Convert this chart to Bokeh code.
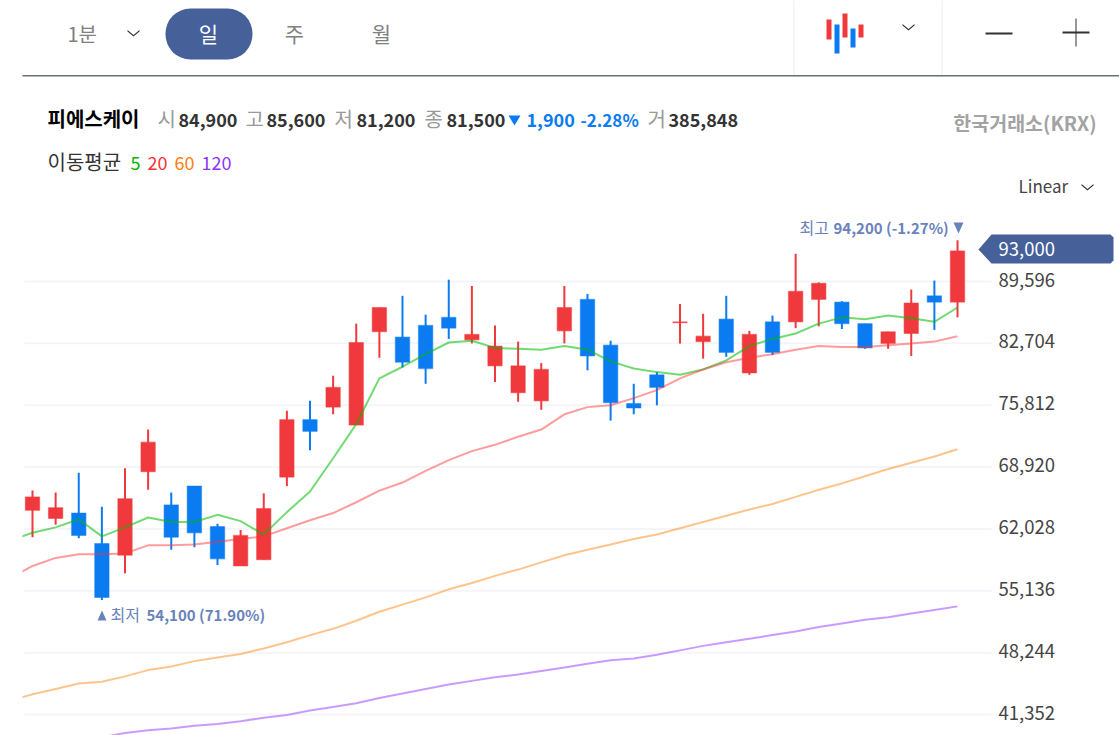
# plot.py
#
# Daily candle chart with moving averages, inside the trading page chrome

# ========
# SETTINGS
# ========

# Libraries
from bokeh.core.properties import value
from bokeh.embed import file_html
from bokeh.models import BoxAnnotation, ColumnDataSource, Label, PolyAnnotation, Range1d
from bokeh.plotting import figure
from bokeh.resources import INLINE

# ====
# DATA
# ====

# Candles, oldest first
opens = [64100, 63200, 63800, 60400, 59100, 68400, 64700, 66800, 62300, 57900, 58600,
	67800, 74200, 75600, 73600, 84000, 83400, 84700, 85600, 83100, 80200, 77200, 76300,
	84100, 87600, 82500, 76000, 79200, 85000, 82900, 85400, 79400, 85100, 85100, 87600,
	87300, 84900, 82700, 83800, 88000, 87300]
highs = [66300, 66100, 68300, 64500, 68800, 73100, 66100, 66800, 62600, 61900, 66000,
	75200, 76300, 79100, 84900, 86700, 88000, 85900, 89800, 89100, 84700, 82900, 80500,
	89100, 88200, 83000, 78200, 79500, 87100, 86000, 88000, 84100, 85800, 92700, 89500,
	87400, 84900, 84000, 88700, 89700, 94200]
lows = [61100, 62500, 61000, 54100, 57100, 66400, 59700, 60000, 58000, 57900, 58600,
	66800, 70800, 74800, 73600, 81100, 80000, 78200, 83200, 82700, 78400, 76200, 75300,
	82700, 79700, 74100, 74800, 75800, 82700, 81000, 81200, 79200, 81400, 84400, 84600,
	84300, 82100, 82100, 81300, 84200, 85600]
closes = [65600, 64400, 61300, 54400, 65400, 71700, 61100, 61600, 58700, 61300, 64300,
	74200, 72900, 77800, 82800, 86700, 80600, 79900, 84400, 83700, 82400, 80200, 79800,
	86700, 81300, 76100, 75500, 77800, 85100, 83500, 81700, 83700, 81700, 88500, 89400,
	84900, 82200, 84000, 87200, 87300, 93000]

# Moving averages; these start one session before the first visible candle
ma5 = [60700, 61600, 62200, 63100, 61200, 62200, 63300, 62800, 62800, 63600, 62900, 61400,
	63900, 66200, 69900, 73700, 78800, 80100, 81500, 82800, 83000, 82200, 82100, 82000,
	82400, 82000, 80700, 79900, 79500, 79200, 79800, 80800, 82400, 83200, 83800, 84900,
	85600, 85400, 85800, 85500, 85100, 86700]
ma20 = [56500, 57900, 58800, 59200, 59200, 59300, 60200, 60200, 60300, 60600, 60900, 61200,
	62100, 63000, 63800, 65000, 66300, 67200, 68500, 69700, 70700, 71400, 72300, 73100,
	74800, 75600, 75800, 76600, 77500, 78800, 79800, 80600, 81100, 81500, 82000, 82400,
	82300, 82300, 82500, 82700, 82900, 83500]
ma60 = [42900, 43600, 44200, 44800, 45000, 45600, 46300, 46700, 47300, 47700, 48100, 48700,
	49400, 50200, 50900, 51800, 52800, 53600, 54400, 55300, 56000, 56800, 57500, 58300,
	59100, 59700, 60300, 60900, 61400, 62100, 62800, 63500, 64200, 64800, 65600, 66400,
	67100, 67900, 68700, 69400, 70100, 70900]
# The long average only enters the visible area from the fourth candle on
ma120 = [38800, 39300, 39600, 39800, 40100, 40300, 40600, 41000, 41300, 41800, 42200, 42600,
	43200, 43700, 44200, 44700, 45100, 45500, 45800, 46200, 46600, 47000, 47400, 47600,
	48000, 48500, 49000, 49400, 49800, 50200, 50600, 51100, 51500, 51900, 52200, 52600,
	53000, 53400]

# Price axis
price_ticks = [41352, 48244, 55136, 62028, 68920, 75812, 82704, 89596]

# Header texts
stock_name = '피에스케이'
quote_items = [('시', '84,900', 157, 178), ('고', '85,600', 245, 266), ('저', '81,200', 334, 356), ('종', '81,500', 424, 446)]
quote_change = '1,900'
quote_rate = '-2.28%'
quote_volume = '385,848'
ma_periods = ['5', '20', '60', '120']

# ======
# STYLES
# ======

FONT = 'Noto Sans CJK KR'
RED = '#f0393c'
BLUE = '#0b7bf1'
NAVY = '#46609a'
MARK = '#6a82bc'
DARK = '#333333'
GREY = '#808080'

# Page pixels of the candle area
PX_LEFT = 22
PX_RIGHT = 991
WIDTH = 1119
HEIGHT = 735

# ======
# FIGURE
# ======

# Position scales: one session is 23.125px, 6892 won is 61.86px
step = 23.125
price_per_px = 6892 / 61.86

def to_x(px):
	'''Session position of a page pixel column'''
	return (px - 32) / step

# The frame fills the page so that header and tag can sit anywhere
p = figure(
	width=WIDTH,
	height=HEIGHT,
	x_range=Range1d(to_x(0), to_x(WIDTH)),
	y_range=Range1d(89596 - (HEIGHT - 281) * price_per_px, 89596 + 281 * price_per_px),
	x_axis_location=None,
	y_axis_location=None,
	output_backend='svg',
	toolbar_location=None,
	min_border=0,
	)

# Tidy
p.outline_line_color = None
p.grid.visible = False

# =====
# MARKS
# =====

# Gridlines and price labels, 2px above their lines as on the page
p.segment([to_x(24)] * len(price_ticks), price_ticks, [to_x(PX_RIGHT)] * len(price_ticks), price_ticks,
	line_color='#f4f5f9', line_width=2)
p.text([to_x(998)] * len(price_ticks), price_ticks, text=[format(t, ',') for t in price_ticks],
	y_offset=-2, text_baseline='middle', text_font=value(FONT), text_font_size='18.5px', text_color='#444444')

# Candles: red up, blue down
candles = ColumnDataSource(dict(
	i=list(range(len(opens))),
	open=opens,
	high=highs,
	low=lows,
	close=closes,
	color=[RED if c >= o else BLUE for o, c in zip(opens, closes)],
	))
p.segment('i', 'high', 'i', 'low', source=candles, line_color='color', line_width=2)
p.vbar('i', 0.62, 'open', 'close', source=candles, fill_color='color', line_color='color', line_alpha=0.45, line_width=1.2)

# Moving averages
ma_colors = ['#00bb00', '#ff3034', '#ff8410', '#8b30ff']
ma_x = list(range(-1, len(opens)))
p.line(ma_x, ma5, line_color=ma_colors[0], line_alpha=0.55, line_width=2)
p.line(ma_x, ma20, line_color=ma_colors[1], line_alpha=0.48, line_width=2)
p.line(ma_x, ma60, line_color=ma_colors[2], line_alpha=0.48, line_width=2)
p.line(ma_x[-len(ma120):], ma120, line_color=ma_colors[3], line_alpha=0.48, line_width=2)

# ======
# CHROME
# ======

def txt(x, y, text, color=DARK, size=17.5, style='normal', align='left'):
	'''Text at page pixel coordinates'''
	p.add_layout(Label(
		x=x, y=y, x_units='canvas', y_units='canvas', text=text,
		text_font=FONT, text_font_size=str(size) + 'px', text_font_style=style,
		text_color=color, text_align=align, text_baseline='middle',
		))

def poly(xs, ys, color):
	'''Filled shape at page pixel coordinates'''
	p.add_layout(PolyAnnotation(
		xs=xs, ys=ys, xs_units='canvas', ys_units='canvas',
		fill_color=color, fill_alpha=1, line_color=None,
		))

def rect(left, right, top, bottom, color, radius=0):
	'''Filled box at page pixel coordinates'''
	p.add_layout(BoxAnnotation(
		left=left, right=right, top=top, bottom=bottom,
		left_units='canvas', right_units='canvas', top_units='canvas', bottom_units='canvas',
		fill_color=color, fill_alpha=1, line_color=None, border_radius=radius,
		))

def chevron(cx, cy, color=DARK):
	'''Small open chevron'''
	w = 6
	h = 5
	t = 1.5
	poly([cx - w, cx, cx + w, cx + w, cx, cx - w],
		[cy - h / 2, cy + h / 2, cy - h / 2, cy - h / 2 + t, cy + h / 2 + t, cy - h / 2 + t], color)

# Moving averages end at the left edge of the candle area
rect(0, PX_LEFT, 200, HEIGHT, '#ffffff')

# Period tabs
txt(67, 33, '1분', GREY, 20)
chevron(133, 32)
rect(165, 252, 8, 59, NAVY, 25)
txt(208, 32, '일', '#ffffff', 21, align='center')
txt(294, 32, '주', GREY, 21, align='center')
txt(381, 32, '월', GREY, 21, align='center')

# Separators and rule
rect(793, 794, 0, 74, '#eeeeee')
rect(941, 942, 0, 74, '#eeeeee')
rect(22, WIDTH, 74.5, 76, '#6b7075')

# Chart type icon
rect(826, 831, 19, 39, RED)
rect(834, 839, 24, 53, BLUE)
rect(842, 847, 13, 37, RED)
rect(850, 855, 28, 47, BLUE)
rect(858, 863, 24, 37, RED)
chevron(908, 26)

# Zoom buttons
rect(985, 1012, 32, 34, DARK)
rect(1062, 1089, 31, 33, DARK)
rect(1075, 1076, 18, 46, DARK)

# Quote line
txt(47, 118, stock_name, '#000000', 20, 'bold')
for label, amount, label_x, value_x in quote_items:
	txt(label_x, 118, label, '#999999', 20)
	txt(value_x, 119, amount, DARK, 18, 'bold')
poly([508, 520, 514], [115, 115, 125], BLUE)
txt(526, 119, quote_change, BLUE, 18, 'bold')
txt(580, 119, quote_rate, BLUE, 17, 'bold')
txt(647, 118, '거', '#999999', 20)
txt(668, 119, quote_volume, DARK, 18, 'bold')
txt(1096, 122, '한국거래소(KRX)', '#a3a3a3', 19.5, 'bold', 'right')

# Moving average legend
txt(47, 161, '이동평균', DARK, 20)
ma_legend_colors = ['#00b400', '#ff3034', '#ff8010', '#9033ff']
for period, color, x in zip(ma_periods, ma_legend_colors, [130, 147, 174, 201]):
	txt(x, 162, period, color, 18)

# Scale selector
txt(1018, 185, 'Linear', '#444444', 17)
chevron(1087, 186)

# High and low notes
txt(799, 226, '최고', MARK, 16)
txt(833, 227, '94,200 (-1.27%)', MARK, 15, 'bold')
poly([953, 963, 958], [222, 222, 233], MARK)
poly([97, 106, 101.5], [620, 620, 610], MARK)
txt(110, 613, '최저', MARK, 16)
txt(146, 614, '54,100 (71.90%)', MARK, 15, 'bold')

# Last price tag
poly([978, 991, 1110, 1113, 1113, 1110, 991], [249, 234, 234, 237, 260, 263, 263], NAVY)
txt(998, 248, '93,000', '#ffffff', 18.5)

# ====
# SAVE
# ====

open('out.html', 'w').write(file_html(p, INLINE))
